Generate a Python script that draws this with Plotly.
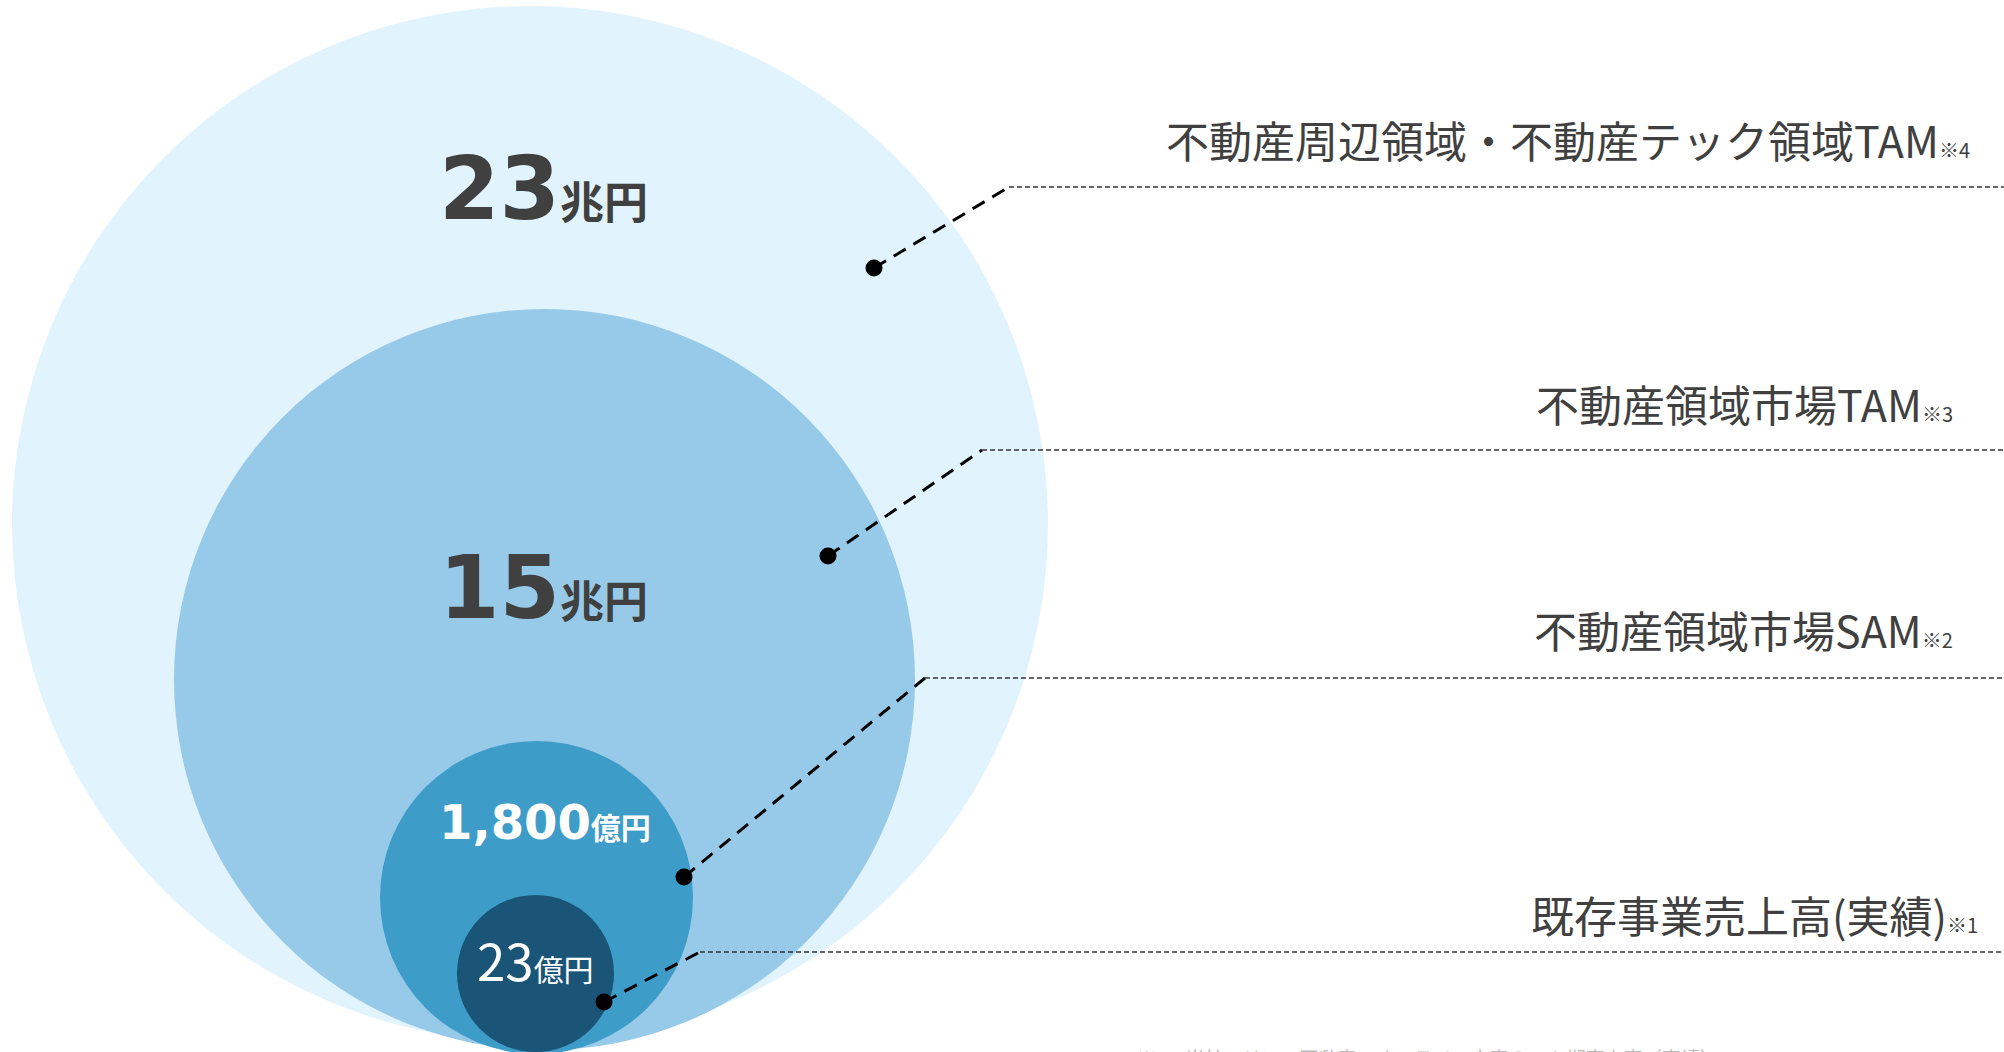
import plotly.graph_objects as go

# ---- data ----
segment_labels = ["不動産周辺領域・不動産テック領域TAM", "不動産領域市場TAM", "不動産領域市場SAM", "既存事業売上高(実績)"]
segment_notes = ["※4", "※3", "※2", "※1"]
value_numbers = ["23", "15", "1,800", "23"]
value_units = ["兆円", "兆円", "億円", "億円"]
footnote_text = "※1　当社エリア・不動産・オンライン大家の22/3期売上高（実績）"

# ---- layout geometry (pixel space of the 2004x1052 canvas) ----
W, H = 2004, 1052
circles = [  # x0, y0, x1, y1
    (12, 6, 1048, 1042),
    (174, 309, 915, 1050),
    (380, 741, 693, 1054),
    (457, 895, 614, 1052),
]
circle_colors = ["#E1F3FD", "#97C9E9", "#3E9CC8", "#1A5578"]
dots = [(874, 268), (828, 556), (684, 877), (604, 1002)]
elbows = [(1009, 187), (982, 450), (925, 678), (700, 952)]
label_pos = [(1972, 139), (1955, 403), (1955, 629), (1980, 914)]
value_pos = [(543, 189), (543, 588), (545, 822), (535, 959)]
value_styles = [
    dict(num=87, unit=44, color="#404040", bold=True),
    dict(num=87, unit=44, color="#404040", bold=True),
    dict(num=48, unit=30, color="#FFFFFF", bold=True),
    dict(num=51, unit=30, color="#FFFFFF", bold=False),
]

fig = go.Figure()

shapes = []
for (x0, y0, x1, y1), col in zip(circles, circle_colors):
    shapes.append(dict(type="circle", xref="x", yref="y", x0=x0, y0=y0, x1=x1, y1=y1,
                       fillcolor=col, line=dict(width=0), layer="below"))
fig.update_layout(shapes=shapes)

# leader lines
for (dx, dy), (ex, ey) in zip(dots, elbows):
    fig.add_trace(go.Scatter(x=[dx, ex], y=[dy, ey], mode="lines",
                             line=dict(color="#000000", width=3, dash="14px,9px"),
                             hoverinfo="skip", showlegend=False))
    fig.add_trace(go.Scatter(x=[ex, W], y=[ey, ey], mode="lines",
                             line=dict(color="#333333", width=1.5, dash="5px,3px"),
                             hoverinfo="skip", showlegend=False))
fig.add_trace(go.Scatter(x=[d[0] for d in dots], y=[d[1] for d in dots], mode="markers",
                         marker=dict(color="#000000", size=17, line=dict(width=0)),
                         hoverinfo="skip", showlegend=False))

annotations = []
for lab, note, (x, y) in zip(segment_labels, segment_notes, label_pos):
    annotations.append(dict(
        x=x, y=y, xref="x", yref="y", xanchor="right", yanchor="middle", showarrow=False,
        text=f"{lab}<span style='font-size:20px'>{note}</span>",
        font=dict(family="Noto Sans CJK JP", size=43, color="#404040")))

for num, unit, (x, y), st in zip(value_numbers, value_units, value_pos, value_styles):
    if st["bold"]:
        txt = (f"<b><span style='font-family:DejaVu Sans'>{num}</span>"
               f"<span style='font-size:{st['unit']}px;font-family:Noto Sans CJK JP'>{unit}</span></b>")
        fam = "DejaVu Sans"
    else:
        txt = f"{num}<span style='font-size:{st['unit']}px'>{unit}</span>"
        fam = "Noto Sans CJK JP"
    annotations.append(dict(
        x=x, y=y, xref="x", yref="y", xanchor="center", yanchor="middle", showarrow=False,
        text=txt, font=dict(family=fam, size=st["num"], color=st["color"])))

# footnote: in the reference it sits at the very bottom edge and is mostly cut off
annotations.append(dict(
    x=1135 / W, y=-5 / H, xref="paper", yref="paper", xanchor="left", yanchor="middle",
    showarrow=False,
    text=footnote_text, font=dict(family="Noto Sans CJK JP", size=19, color="#BBBBBB")))

fig.update_layout(
    annotations=annotations,
    width=W, height=H,
    margin=dict(l=0, r=0, t=0, b=0, pad=0),
    paper_bgcolor="#FFFFFF", plot_bgcolor="#FFFFFF",
    xaxis=dict(range=[0, W], visible=False, fixedrange=True),
    yaxis=dict(range=[H, 0], visible=False, fixedrange=True),
    showlegend=False,
)

fig.write_html("out.html", config={"displayModeBar": False})
